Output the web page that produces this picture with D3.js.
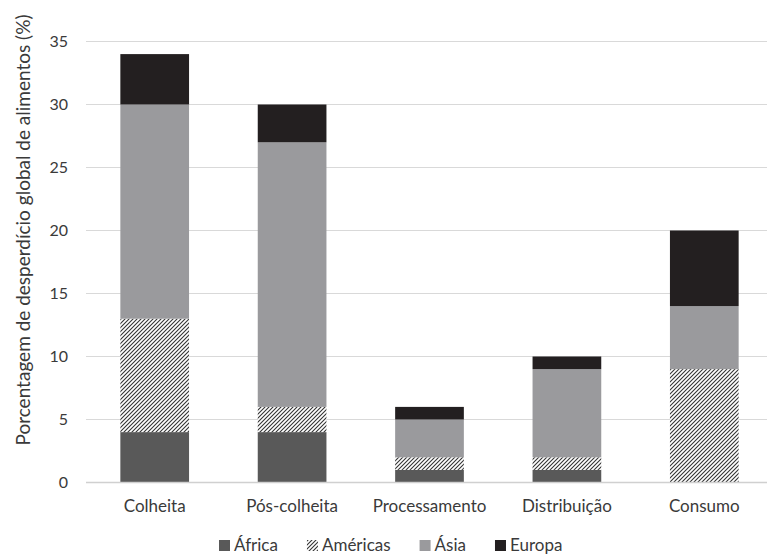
<!DOCTYPE html>
<html>
<head>
<meta charset="utf-8">
<script src="https://cdn.jsdelivr.net/npm/d3@7"></script>
<style>
  html, body { margin: 0; padding: 0; background: #fff; }
  svg { display: block; }
  text { font-family: Lato, "Open Sans", sans-serif; fill: #3a3a3a; }
</style>
</head>
<body>
<svg id="chart" width="767" height="554"></svg>
<script>
const categories = ["Colheita", "Pós-colheita", "Processamento", "Distribuição", "Consumo"];
const seriesNames = ["África", "Américas", "Ásia", "Europa"];
const africa   = [4, 4, 1, 1, 0];
const americas = [9, 2, 1, 1, 9];
const asia     = [17, 21, 3, 7, 5];
const europa   = [4, 3, 1, 1, 6];
const yTicks = [0, 5, 10, 15, 20, 25, 30, 35];
const yTitle = "Porcentagem de desperdício global de alimentos (%)";

const seriesValues = [africa, americas, asia, europa];
const fills = ["#595959", "url(#hatch)", "#9a9a9d", "#231f20"];

const svg = d3.select("#chart");
const defs = svg.append("defs");
const pat = defs.append("pattern")
  .attr("id", "hatch").attr("patternUnits", "userSpaceOnUse")
  .attr("width", 4).attr("height", 4);
pat.append("rect").attr("width", 4).attr("height", 4).attr("fill", "#fff");
pat.append("path").attr("d", "M-1,1 L1,-1 M0,4 L4,0 M3,5 L5,3")
  .attr("stroke", "#333").attr("stroke-width", 1.1);

const x = d3.scaleBand().domain(categories).range([86, 773]).paddingInner(0.5).paddingOuter(0.25);
const y = d3.scaleLinear().domain([0, 35]).range([482.5, 41.5]);

// gridlines
svg.append("g").selectAll("line").data(yTicks.filter(t => t > 0)).join("line")
  .attr("x1", 86).attr("x2", 773)
  .attr("y1", d => y(d)).attr("y2", d => y(d))
  .attr("stroke", "#d9d9d9").attr("stroke-width", 1);

// y tick labels
svg.append("g").selectAll("text").data(yTicks).join("text")
  .attr("x", 68).attr("y", d => y(d)).attr("dy", "0.35em")
  .attr("text-anchor", "end").attr("font-size", 16)
  .text(d => d);

// stacked data
const rows = categories.map((c, i) => {
  const o = { cat: c };
  seriesNames.forEach((s, j) => o[s] = seriesValues[j][i]);
  return o;
});
const stacked = d3.stack().keys(seriesNames)(rows);

svg.append("g").selectAll("g").data(stacked).join("g")
  .attr("fill", (d, i) => fills[i])
  .selectAll("rect").data(d => d.filter(p => p[1] - p[0] > 0)).join("rect")
  .attr("x", d => x(d.data.cat))
  .attr("width", x.bandwidth())
  .attr("y", d => y(d[1]))
  .attr("height", d => y(d[0]) - y(d[1]));

// x axis line
svg.append("line").attr("x1", 86).attr("x2", 773)
  .attr("y1", y(0)).attr("y2", y(0))
  .attr("stroke", "#d0d0d0").attr("stroke-width", 1.5);

// x labels
svg.append("g").selectAll("text").data(categories).join("text")
  .attr("x", d => x(d) + x.bandwidth() / 2).attr("y", 512)
  .attr("text-anchor", "middle").attr("font-size", 17)
  .text(d => d);

// y title
svg.append("text")
  .attr("transform", "translate(30,230) rotate(-90)")
  .attr("text-anchor", "middle").attr("font-size", 19)
  .text(yTitle);

// legend
const legend = svg.append("g");
let lx = 219;
seriesNames.forEach((s, i) => {
  legend.append("rect").attr("x", lx).attr("y", 540).attr("width", 11).attr("height", 11)
    .attr("fill", fills[i]);
  const t = legend.append("text").attr("x", lx + 15).attr("y", 551)
    .attr("font-size", 17).text(s);
  lx += 15 + t.node().getComputedTextLength() + 29;
});
</script>
</body>
</html>
